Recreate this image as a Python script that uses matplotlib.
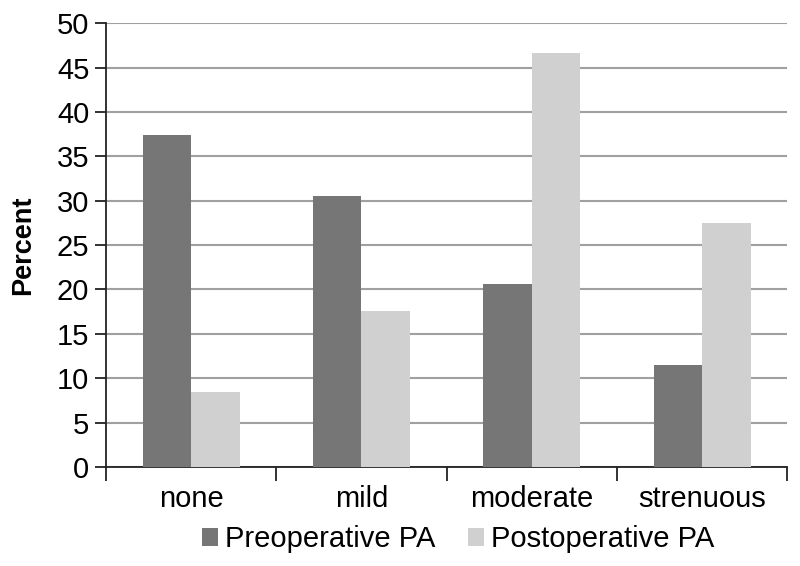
import numpy as np
import matplotlib
matplotlib.use("Agg")
import matplotlib.pyplot as plt

# ---------- data ----------
categories = ["none", "mild", "moderate", "strenuous"]
preop = [37.4, 30.5, 20.6, 11.5]
postop = [8.4, 17.6, 46.6, 27.5]
series_names = ["Preoperative PA", "Postoperative PA"]
yticks = [0, 5, 10, 15, 20, 25, 30, 35, 40, 45, 50]

plt.rcParams["font.family"] = ["Liberation Sans", "DejaVu Sans"]

fig = plt.figure(figsize=(8, 5.66), dpi=100)
ax = fig.add_axes([0.1325, 0.175, 0.984 - 0.1325, 0.959 - 0.175])

x = np.arange(len(categories))
w = 0.285
ax.bar(x - w / 2, preop, w, color="#767676", label=series_names[0], zorder=3)
ax.bar(x + w / 2, postop, w, color="#d0d0d0", label=series_names[1], zorder=3)

ax.set_xlim(-0.5, len(categories) - 0.5)
ax.set_ylim(0, 50)
ax.set_yticks(yticks)
ax.yaxis.grid(True, color="#a0a0a0", linewidth=1.5, zorder=0)
ax.set_axisbelow(True)

ax.set_xticks(x)
ax.set_xticklabels(categories)
ax.set_xticks(np.arange(len(categories) + 1) - 0.5, minor=True)
ax.tick_params(axis="x", which="major", length=0, pad=13, labelsize=21)
ax.tick_params(axis="x", which="minor", length=10, width=1.3, color="#222222")
ax.tick_params(axis="y", length=8, width=1.3, color="#222222", labelsize=21, pad=4)

for s in ["top", "right"]:
    ax.spines[s].set_visible(False)
for s in ["left", "bottom"]:
    ax.spines[s].set_color("#222222")
    ax.spines[s].set_linewidth(1.3)

fig.text(0.029, 0.567, "Percent", rotation=90, ha="center", va="center",
         fontsize=19.5, fontweight="bold")

fig.legend(loc="center", bbox_to_anchor=(0.5725, 0.047), ncol=2, frameon=False,
           fontsize=21, handlelength=0.55, handleheight=0.55, handletextpad=0.25,
           columnspacing=1.1)

fig.savefig("out.png", dpi=100)
